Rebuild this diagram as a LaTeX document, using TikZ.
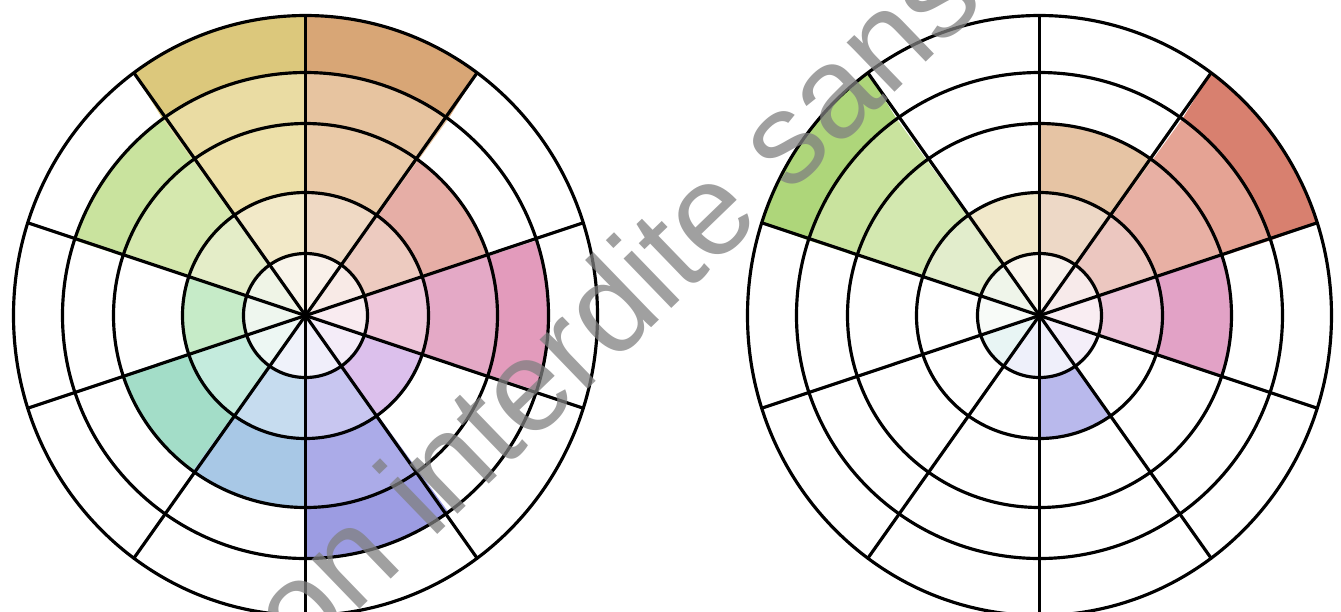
\documentclass[tikz,border=0pt]{standalone}
\usepackage{fontspec}
\setmainfont{Liberation Sans}
\usepackage{tikz}

% cell colours, left wheel
\definecolor{orA}{HTML}{F9F0EA}\definecolor{orB}{HTML}{EFD9C4}\definecolor{orC}{HTML}{EACAA8}\definecolor{orD}{HTML}{E7C4A0}\definecolor{orE}{HTML}{D8A676}
\definecolor{yeA}{HTML}{F8F4EA}\definecolor{yeB}{HTML}{F2E9C8}\definecolor{yeC}{HTML}{EDE0A9}\definecolor{yeD}{HTML}{EADCA3}\definecolor{yeE}{HTML}{DCC87C}
\definecolor{ygA}{HTML}{EFF4E6}\definecolor{ygB}{HTML}{E4EDC8}\definecolor{ygC}{HTML}{D5E8AE}\definecolor{ygD}{HTML}{C9E39E}
\definecolor{grA}{HTML}{EEF6EE}\definecolor{grB}{HTML}{C6EBC8}
\definecolor{teA}{HTML}{EDF7F3}\definecolor{teB}{HTML}{C4EBDD}\definecolor{teC}{HTML}{A3DDC8}
\definecolor{blA}{HTML}{EFF2FA}\definecolor{blB}{HTML}{C6DCEF}\definecolor{blC}{HTML}{A8C8E6}
\definecolor{inA}{HTML}{F0EEFA}\definecolor{inB}{HTML}{C8C6F0}\definecolor{inC}{HTML}{ABABE8}\definecolor{inD}{HTML}{9C9CE2}
\definecolor{puA}{HTML}{F4ECF8}\definecolor{puB}{HTML}{DCC0EC}
\definecolor{piA}{HTML}{F9EBF0}\definecolor{piB}{HTML}{EEC6DA}\definecolor{piC}{HTML}{E4A9C6}\definecolor{piD}{HTML}{E39BBC}
\definecolor{reA}{HTML}{F8EAE6}\definecolor{reB}{HTML}{EDCBC0}\definecolor{reC}{HTML}{E6AEA6}
% cell colours, right wheel
\definecolor{rrA}{HTML}{F7EAEA}\definecolor{rrB}{HTML}{ECC7C0}\definecolor{rrC}{HTML}{E8B0A4}\definecolor{rrD}{HTML}{E5A394}\definecolor{rrE}{HTML}{D8806F}
\definecolor{roA}{HTML}{F8F1EC}\definecolor{roB}{HTML}{EDD8C6}\definecolor{roC}{HTML}{E6C4A4}
\definecolor{ryA}{HTML}{F9F5EC}\definecolor{ryB}{HTML}{F1E8CA}
\definecolor{rgA}{HTML}{EFF5EA}\definecolor{rgB}{HTML}{E2EDCC}\definecolor{rgC}{HTML}{D3E8B0}\definecolor{rgD}{HTML}{C9E39E}\definecolor{rgE}{HTML}{AED67A}
\definecolor{rnA}{HTML}{F8FBF8}\definecolor{rtA}{HTML}{E8F5F4}\definecolor{rbA}{HTML}{EEF0FA}
\definecolor{riA}{HTML}{EFEFFA}\definecolor{riB}{HTML}{B9B9EC}
\definecolor{rpA}{HTML}{F4EEF9}
\definecolor{rkA}{HTML}{F9EDF2}\definecolor{rkB}{HTML}{EDC5D9}\definecolor{rkC}{HTML}{E2A2C6}

% one cell of a wheel: start angle, ring (1..5), colour
\newcommand{\wcell}[3]{%
  \pgfmathsetmacro\rin{{0,0.62,1.23,1.92,2.43}[#2-1]}%
  \pgfmathsetmacro\rox{{0.62,1.23,1.92,2.43,2.92}[#2-1]}%
  \pgfmathsetmacro\roy{{0.62,1.23,1.92,2.43,3.0}[#2-1]}%
  \ifnum#2=1
    \fill[#3] (0,0) -- (#1:\rox) arc[start angle=#1, end angle=#1+36, radius=\rox] -- cycle;
  \else
    \fill[#3] (#1:\rin) arc[start angle=#1, end angle=#1+36, radius=\rin]
      -- ({#1+36}:{\rox} and {\roy}) arc[start angle=#1+36, end angle=#1, x radius=\rox, y radius=\roy] -- cycle;
  \fi}

\begin{document}
\begin{tikzpicture}[
    wheel/.style={draw=black, line width=0.9pt},
    stamp/.style={text=black!50, opacity=0.75, font=\fontsize{37}{40}\selectfont, rotate=44, anchor=mid, inner sep=0pt}
]
    \useasboundingbox (0,0) rectangle (13.41,-6.11);
    \clip (0,0) rectangle (13.41,-6.11);

    % left wheel
    \begin{scope}[shift={(3.055,-3.155)}]
        \foreach \a/\r/\c in {54/1/orA,54/2/orB,54/3/orC,54/4/orD,54/5/orE,
                90/1/yeA,90/2/yeB,90/3/yeC,90/4/yeD,90/5/yeE,
                126/1/ygA,126/2/ygB,126/3/ygC,126/4/ygD,
                162/1/grA,162/2/grB,
                198/1/teA,198/2/teB,198/3/teC,
                234/1/blA,234/2/blB,234/3/blC,
                270/1/inA,270/2/inB,270/3/inC,270/4/inD,
                306/1/puA,306/2/puB,
                342/1/piA,342/2/piB,342/3/piC,342/4/piD,
                18/1/reA,18/2/reB,18/3/reC}
            \wcell{\a}{\r}{\c};
        \foreach \r in {0.62,1.23,1.92,2.43}
            \draw[wheel] (0,0) circle[radius=\r];
        \draw[wheel] (0,0) ellipse[x radius=2.92, y radius=3.0];
        \foreach \a in {18,54,...,342}
            \draw[wheel] (0,0) -- (\a:2.92 and 3.0);
        \fill (0,0) circle[radius=0.045];
    \end{scope}

    % right wheel
    \begin{scope}[shift={(10.395,-3.155)}]
        \foreach \a/\r/\c in {18/1/rrA,18/2/rrB,18/3/rrC,18/4/rrD,18/5/rrE,
                54/1/roA,54/2/roB,54/3/roC,
                90/1/ryA,90/2/ryB,
                126/1/rgA,126/2/rgB,126/3/rgC,126/4/rgD,126/5/rgE,
                162/1/rnA,198/1/rtA,234/1/rbA,
                270/1/riA,270/2/riB,
                306/1/rpA,
                342/1/rkA,342/2/rkB,342/3/rkC}
            \wcell{\a}{\r}{\c};
        \foreach \r in {0.62,1.23,1.92,2.43}
            \draw[wheel] (0,0) circle[radius=\r];
        \draw[wheel] (0,0) ellipse[x radius=2.92, y radius=3.0];
        \foreach \a in {18,54,...,342}
            \draw[wheel] (0,0) -- (\a:2.92 and 3.0);
        \fill (0,0) circle[radius=0.045];
    \end{scope}

    % watermark
    \node[stamp] (mark) at (6.38,-3.28) {on interdite sans};
\end{tikzpicture}
\end{document}
